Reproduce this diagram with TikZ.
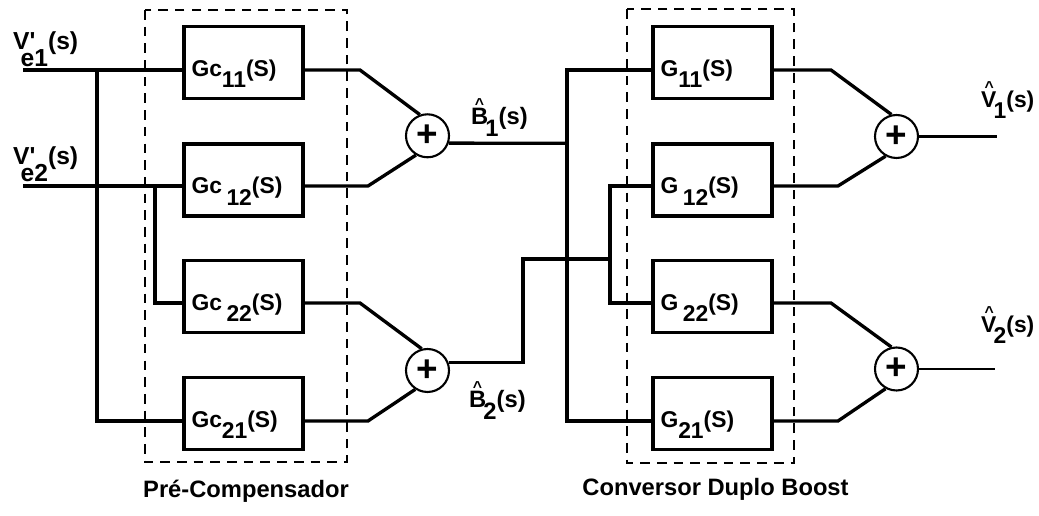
\documentclass[tikz,border=0pt]{standalone}
\usepackage{fontspec}
\setmainfont{Liberation Sans}
\usetikzlibrary{positioning}

\newcommand{\gblk}[2]{#1\raisebox{-0.95ex}{#2}(S)}
\newcommand{\vin}[1]{V\textquotesingle\hspace{-0.6em}\raisebox{-1.25ex}{e#1}(s)}
\newcommand{\hsig}[2]{\makebox[0pt][l]{\makebox[0.7em]{\raisebox{8.7pt}{\fontsize{9}{9}\selectfont\textasciicircum}}}#1\hspace{-0.12em}\raisebox{-0.9ex}{#2}(s)}

\begin{document}
\begin{tikzpicture}[x=0.02cm,y=-0.02cm,
    every node/.style={font=\fontsize{13}{15}\selectfont\bfseries},
    blk/.style={draw,line width=1.9pt,inner xsep=0.15cm,inner ysep=0pt,
      text width=2.08cm,align=left,text height=1.0cm,text depth=0.44cm},
    sum/.style={draw,circle,line width=1.2pt,minimum size=0.86cm,inner sep=0pt,
      font=\fontsize{21}{21}\selectfont\bfseries},
    sig/.style={line width=1.9pt},
    outsig/.style={line width=1.3pt},
    grp/.style={line width=0.6pt,dash pattern=on 5.5pt off 4pt}]
  \useasboundingbox (0,0) rectangle (1039,516);

  \coordinate (r1) at (0,70);
  \coordinate (r2) at (0,186);
  \coordinate (r3) at (0,303);
  \coordinate (r4) at (0,421);

  \draw[grp] (145,10) rectangle (347,462);
  \draw[grp] (627,9) rectangle (794,463);

  \node[blk] (gc11) at (243.5,62.5) {\gblk{Gc}{11}};
  \node[blk] (gc12) at (243.5,180) {\gblk{Gc\hspace{0.2em}}{12}};
  \node[blk] (gc22) at (243.5,296.5) {\gblk{Gc\hspace{0.2em}}{22}};
  \node[blk] (gc21) at (243.5,413.5) {\gblk{Gc}{21}};

  \node[blk] (g11) at (712.5,62.5) {\gblk{G}{11}};
  \node[blk] (g12) at (712.5,180) {\gblk{G\hspace{0.2em}}{12}};
  \node[blk] (g22) at (712.5,296.5) {\gblk{G\hspace{0.2em}}{22}};
  \node[blk] (g21) at (712.5,413.5) {\gblk{G}{21}};

  \node[sum] (s1) at (427.5,135.8) {+};
  \node[sum] (s2) at (427.5,370.5) {+};
  \node[sum] (s3) at (896.5,136.5) {+};
  \node[sum] (s4) at (896.5,369) {+};

  \coordinate (ve1) at (23,70);
  \coordinate (ve2) at (23,186);
  \coordinate (ja) at (97,70);
  \coordinate (jb) at (155,186);
  \draw[sig] (ve1) -- (gc11.west |- r1);
  \draw[sig] (ve2) -- (gc12.west |- r2);
  \draw[sig] (ja) |- (gc21.west |- r4);
  \draw[sig] (jb) |- (gc22.west |- r3);

  \coordinate (k1) at (360,70);
  \coordinate (k2) at (368,186);
  \coordinate (k3) at (360,303);
  \coordinate (k4) at (368,421);
  \draw[sig] (gc11.east |- r1) -- (k1) -- (s1.110);
  \draw[sig] (gc12.east |- r2) -- (k2) -- (s1.239);
  \draw[sig] (gc22.east |- r3) -- (k3) -- (s2.105);
  \draw[sig] (gc21.east |- r4) -- (k4) -- (s2.237);

  \coordinate (jc) at (567,143.3);
  \coordinate (je) at (523,259);
  \coordinate (jf) at (610,259);
  \draw[sig] (s1.-19) -- (jc);
  \draw[sig] (g11.west |- r1) -| (jc) |- (g21.west |- r4);
  \draw[sig] (s2.20) -| (je) -- (jf);
  \draw[sig] (g12.west |- r2) -| (jf) |- (g22.west |- r3);

  \coordinate (k5) at (831,70);
  \coordinate (k6) at (838,186);
  \coordinate (k7) at (831,303);
  \coordinate (k8) at (838,421);
  \draw[sig] (g11.east |- r1) -- (k5) -- (s3.103);
  \draw[sig] (g12.east |- r2) -- (k6) -- (s3.241);
  \draw[sig] (g22.east |- r3) -- (k7) -- (s4.103);
  \draw[sig] (g21.east |- r4) -- (k8) -- (s4.241);

  \coordinate (vo1) at (997,136.5);
  \coordinate (vo2) at (995,369);
  \draw[outsig] (s3) -- (vo1);
  \draw[outsig] (s4) -- (vo2);

  \node[anchor=base west,font=\fontsize{14}{16}\selectfont\bfseries] (lve1) at (7,50) {\vin{1}};
  \node[anchor=base west,font=\fontsize{14}{16}\selectfont\bfseries] (lve2) at (7,165) {\vin{2}};
  \node[anchor=base west,font=\fontsize{13.5}{15}\selectfont\bfseries] (lb1) at (465,125) {\hsig{B}{1}};
  \node[anchor=base west,font=\fontsize{13.5}{15}\selectfont\bfseries] (lb2) at (463,408) {\hsig{B}{2}};
  \node[anchor=base west,font=\fontsize{13}{15}\selectfont\bfseries] (lv1) at (975,108) {\hsig{V}{1}};
  \node[anchor=base west,font=\fontsize{13}{15}\selectfont\bfseries] (lv2) at (975,333) {\hsig{V}{2}};

  \node[anchor=base,font=\fontsize{13.5}{16}\selectfont\bfseries] (pre) at (246,498) {Pré-Compensador};
  \node[anchor=base,font=\fontsize{13.5}{16}\selectfont\bfseries] (conv) at (715.5,496) {Conversor Duplo Boost};
\end{tikzpicture}
\end{document}
